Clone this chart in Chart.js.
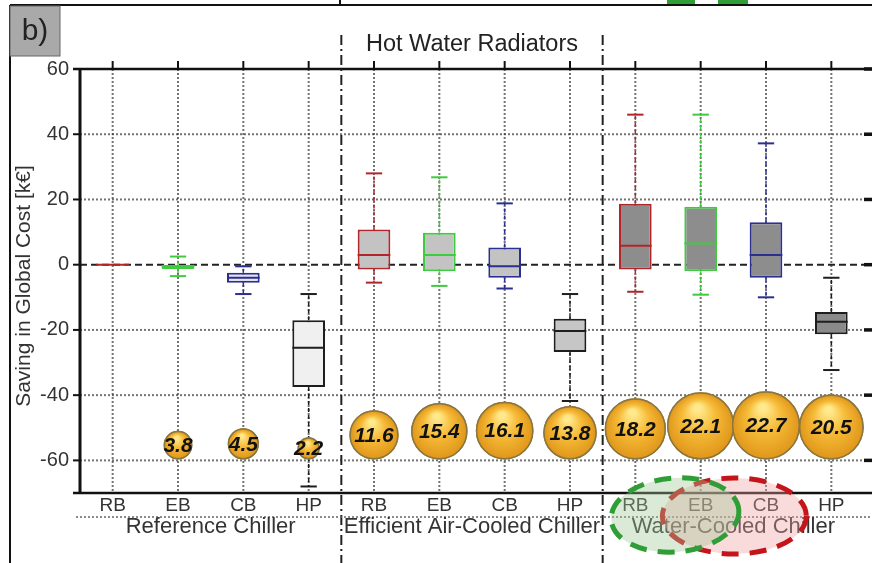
<!DOCTYPE html>
<html>
<head>
<meta charset="utf-8">
<script src="https://cdn.jsdelivr.net/npm/chart.js@4.4.1/dist/chart.umd.min.js"></script>
<style>
  html, body { margin: 0; padding: 0; background: #fff; }
</style>
</head>
<body>
<canvas id="chart" width="872" height="563"></canvas>
<script>
const systems    = ['RB', 'EB', 'CB', 'HP'];
const chillers   = ['Reference Chiller', 'Efficient Air-Cooled Chiller', 'Water-Cooled Chiller'];
const categories = chillers.flatMap(() => systems);

// saving in global cost [k€], one value per category
const whiskerHigh = [0,  2.5, -0.5,  -9,     28,  26.8, 18.8,  -9,     46,  46,  37.2,  -4];
const boxHigh     = [0,  0,   -2.5,  -17,    10.8, 9.8,  5.3,  -16.6,  18.7, 17.8, 13,  -14.5];
const medians     = [0, -0.5, -4,    -25.5,  3,    3,   -0.5,  -20.3,  5.8,  6.5,  3,   -17.5];
const boxLow      = [0, -1.3, -5.5,  -37.5, -1.5, -2,   -4,    -26.8, -1.5, -2,   -4,   -21.3];
const whiskerLow  = [0, -3.5, -9,    -68,   -5.5, -6.5, -7.3,  -41.8, -8.3, -9.2, -10,  -32.3];

// values printed in the bubbles
const bubbleValues = [null, 3.8, 4.5, 2.2, 11.6, 15.4, 16.1, 13.8, 18.2, 22.1, 22.7, 20.5];

const yTicks = [-60, -40, -20, 0, 20, 40, 60];
const yMin = -70;
const yMax = 60;
const BUBBLE_BASE = -59.5;

const FONT = "'Liberation Sans', Arial, sans-serif";
const lineColors = { RB: '#b1262b', EB: '#3fcb3f', CB: '#2b2f90', HP: '#1e1e1e' };
const boxFills = [
  'rgba(0,0,0,0)', '#86dc86', '#e6e6ef', '#f0f0f0',
  '#c3c3c3', '#c3c3c3', '#c3c3c3', '#c6c6c6',
  '#8d8d8d', '#8d8d8d', '#8d8d8d', '#8a8a8a'
];

function line(ctx, x1, y1, x2, y2) {
  ctx.beginPath();
  ctx.moveTo(x1, y1);
  ctx.lineTo(x2, y2);
  ctx.stroke();
}

const decor = {
  id: 'decor',
  afterDatasetsUpdate(chart) {
    // bubbles all sit on one baseline
    const meta = chart.getDatasetMeta(1);
    const base = chart.scales.y.getPixelForValue(BUBBLE_BASE);
    meta.data.forEach((el, i) => {
      if (bubbleValues[i] != null && el.options) el.y = base - el.options.radius;
    });
  },
  beforeDatasetsDraw(chart) {
    const { ctx, chartArea: a, scales: { x, y } } = chart;
    const W = chart.width;
    ctx.save();

    // grid
    ctx.strokeStyle = 'rgba(55,55,55,0.7)';
    ctx.lineWidth = 2;
    ctx.setLineDash([2, 2]);
    yTicks.forEach(v => {
      if (v === 0) return;
      const py = y.getPixelForValue(v);
      line(ctx, a.left, py, W, py);
    });
    categories.forEach((c, i) => {
      const px = x.getPixelForValue(i);
      line(ctx, px, a.top, px, a.bottom);
    });

    // zero line
    const y0 = y.getPixelForValue(0);
    ctx.strokeStyle = '#222';
    ctx.setLineDash([7, 4]);
    line(ctx, a.left, y0, W, y0);

    // axes
    ctx.setLineDash([]);
    ctx.strokeStyle = '#111';
    ctx.lineWidth = 2.5;
    line(ctx, a.left - 7, a.top, W, a.top);
    line(ctx, a.left - 7, a.bottom, W, a.bottom);
    ctx.lineWidth = 3;
    line(ctx, a.left, a.top, a.left, a.bottom);
    ctx.lineWidth = 2;
    yTicks.forEach(v => {
      const py = y.getPixelForValue(v);
      line(ctx, a.left - 7, py, a.left, py);
      ctx.lineWidth = 3.5;
      line(ctx, a.right, py, W, py);
      ctx.lineWidth = 2;
    });
    categories.forEach((c, i) => {
      const px = x.getPixelForValue(i);
      line(ctx, px, a.top - 8, px, a.top);
    });

    // group separators
    ctx.strokeStyle = '#222';
    ctx.lineWidth = 2;
    ctx.setLineDash([10, 4, 2, 4]);
    [3, 7].forEach(i => {
      const px = (x.getPixelForValue(i) + x.getPixelForValue(i + 1)) / 2;
      line(ctx, px, 35, px, chart.height);
    });
    ctx.restore();
  },
  afterDatasetDraw(chart, args) {
    if (args.index !== 0) return;
    const { ctx, scales: { x, y } } = chart;
    const bars = chart.getDatasetMeta(0).data;
    ctx.save();
    categories.forEach((sys, i) => {
      const px = x.getPixelForValue(i);
      const half = bars[i].width / 2;
      const cap = half / 2;
      ctx.strokeStyle = lineColors[sys];

      // whiskers
      ctx.lineWidth = 1.5;
      ctx.setLineDash([4, 3]);
      line(ctx, px, y.getPixelForValue(boxHigh[i]), px, y.getPixelForValue(whiskerHigh[i]));
      line(ctx, px, y.getPixelForValue(boxLow[i]), px, y.getPixelForValue(whiskerLow[i]));
      ctx.setLineDash([]);
      ctx.lineWidth = 2;
      if (whiskerHigh[i] !== boxHigh[i]) {
        const ph = y.getPixelForValue(whiskerHigh[i]);
        line(ctx, px - cap, ph, px + cap, ph);
      }
      if (whiskerLow[i] !== boxLow[i]) {
        const pl = y.getPixelForValue(whiskerLow[i]);
        line(ctx, px - cap, pl, px + cap, pl);
      }

      // median
      const pm = y.getPixelForValue(medians[i]);
      line(ctx, px - half, pm, px + half, pm);
    });
    ctx.restore();
  },
  afterDatasetsDraw(chart) {
    const { ctx } = chart;
    const meta = chart.getDatasetMeta(1);
    ctx.save();
    meta.data.forEach((el, i) => {
      if (bubbleValues[i] == null) return;
      const r = el.options.radius;
      const g = ctx.createRadialGradient(el.x - r * 0.1, el.y - r * 0.55, r * 0.1, el.x, el.y, r);
      g.addColorStop(0, '#ffe98c');
      g.addColorStop(0.45, '#f6bb38');
      g.addColorStop(1, '#e0961a');
      ctx.beginPath();
      ctx.arc(el.x, el.y, r, 0, Math.PI * 2);
      ctx.fillStyle = g;
      ctx.fill();
      ctx.lineWidth = 1.5;
      ctx.strokeStyle = '#8a7740';
      ctx.stroke();

      ctx.font = `italic bold 21px ${FONT}`;
      ctx.fillStyle = '#111';
      ctx.textAlign = 'center';
      ctx.textBaseline = 'middle';
      ctx.fillText(bubbleValues[i].toFixed(1), el.x, el.y + 1);
    });
    ctx.restore();
  },
  afterDraw(chart) {
    const { ctx, chartArea: a, scales: { x } } = chart;
    const W = chart.width;
    ctx.save();
    ctx.fillStyle = '#333';
    ctx.textAlign = 'center';
    ctx.textBaseline = 'middle';

    // category labels
    ctx.font = `19px ${FONT}`;
    categories.forEach((c, i) => ctx.fillText(c, x.getPixelForValue(i), a.bottom + 13));

    // dotted divider and group names
    ctx.strokeStyle = '#666';
    ctx.lineWidth = 1.5;
    ctx.setLineDash([2, 2]);
    line(ctx, a.left - 4, a.bottom + 24, W, a.bottom + 24);
    ctx.setLineDash([]);
    ctx.font = `22px ${FONT}`;
    chillers.forEach((name, g) => {
      const cx = (x.getPixelForValue(g * 4) + x.getPixelForValue(g * 4 + 3)) / 2;
      ctx.fillText(name, cx, a.bottom + 34);
    });

    // title
    ctx.fillStyle = '#222';
    ctx.font = `23.5px ${FONT}`;
    ctx.fillText('Hot Water Radiators', (x.getPixelForValue(4) + x.getPixelForValue(7)) / 2, 45);

    // y axis title
    ctx.save();
    ctx.translate(24, (a.top + a.bottom) / 2 + 5);
    ctx.rotate(-Math.PI / 2);
    ctx.fillStyle = '#333';
    ctx.font = `21px ${FONT}`;
    ctx.fillText('Saving in Global Cost [k€]', 0, 0);
    ctx.restore();

    // panel frame and tag
    ctx.strokeStyle = '#111';
    ctx.lineWidth = 2;
    line(ctx, 10, 5, W, 5);
    line(ctx, 10, 5, 10, chart.height);
    line(ctx, 340, 0, 340, 5);
    ctx.fillStyle = '#2f9e36';
    ctx.fillRect(667, 0, 28, 4);
    ctx.fillRect(718, 0, 30, 4);
    ctx.fillStyle = '#a9a9a9';
    ctx.fillRect(10, 6, 50, 50);
    ctx.strokeStyle = '#666';
    ctx.lineWidth = 1;
    ctx.strokeRect(10, 6, 50, 50);
    ctx.fillStyle = '#222';
    ctx.font = `30px ${FONT}`;
    ctx.fillText('b)', 35, 32);

    // highlighted systems
    const gx = (x.getPixelForValue(8) + x.getPixelForValue(9)) / 2 + 7;
    const rx = (x.getPixelForValue(9) + x.getPixelForValue(10)) / 2 + 1;
    ctx.lineWidth = 5;
    ctx.setLineDash([17, 11]);
    ctx.beginPath();
    ctx.ellipse(rx, a.bottom + 23, 72, 38, 0, 0, Math.PI * 2);
    ctx.fillStyle = 'rgba(238,160,160,0.38)';
    ctx.fill();
    ctx.strokeStyle = '#c4161a';
    ctx.stroke();
    ctx.beginPath();
    ctx.ellipse(gx, a.bottom + 22, 64, 37, -0.08, 0, Math.PI * 2);
    ctx.fillStyle = 'rgba(160,200,150,0.38)';
    ctx.fill();
    ctx.strokeStyle = '#2f9e36';
    ctx.stroke();
    ctx.restore();
  }
};

const ctx = document.getElementById('chart').getContext('2d');

const chart = new Chart(ctx, {
  type: 'bar',
  data: {
    labels: categories,
    datasets: [
      {
        label: 'Box',
        data: boxLow.map((lo, i) => [lo, boxHigh[i]]),
        backgroundColor: boxFills,
        borderColor: categories.map(c => lineColors[c]),
        borderWidth: 2,
        borderSkipped: false,
        barPercentage: 0.5,
        categoryPercentage: 1,
        order: 1
      },
      {
        type: 'bubble',
        label: 'Saving',
        data: bubbleValues.map((v, i) => ({ x: i, y: v == null ? null : BUBBLE_BASE, r: v == null ? 0 : 7 * Math.sqrt(v) })),
        backgroundColor: '#f4b733',
        borderColor: '#8a7740',
        borderWidth: 1.5,
        clip: false,
        order: 0
      }
    ]
  },
  options: {
    responsive: false,
    animation: false,
    events: [],
    layout: { autoPadding: false, padding: { top: 69, right: 8, left: 0, bottom: 0 } },
    plugins: {
      legend: { display: false },
      tooltip: { enabled: false }
    },
    scales: {
      x: {
        offset: true,
        grid: { display: false, drawTicks: false },
        border: { display: false },
        ticks: { display: false },
        afterFit: s => { s.height = 70; }
      },
      y: {
        min: yMin,
        max: yMax,
        afterBuildTicks: s => { s.ticks = yTicks.map(v => ({ value: v })); },
        grid: { display: false, drawTicks: false },
        border: { display: false },
        ticks: { padding: 11, color: '#333', font: { family: FONT, size: 20 } },
        afterFit: s => { s.width = 80; }
      }
    }
  },
  plugins: [decor]
});
</script>
</body>
</html>
